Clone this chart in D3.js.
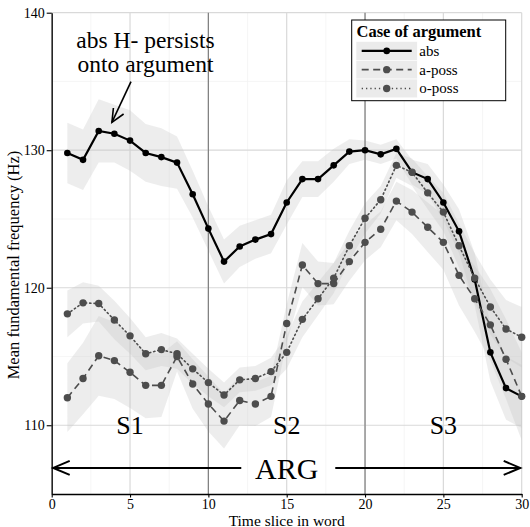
<!DOCTYPE html>
<html>
<head>
<meta charset="utf-8">
<script src="https://cdn.jsdelivr.net/npm/d3@7"></script>
<style>
  body { margin: 0; background: #fff; }
  svg { display: block; font-family: "Liberation Serif", "Times New Roman", serif; }
</style>
</head>
<body>
<svg id="f0-chart" width="530" height="527"></svg>
<script>
// data
const slices = [1,2,3,4,5,6,7,8,9,10,11,12,13,14,15,16,17,18,19,20,21,22,23,24,25,26,27,28,29,30];
const caseNames = ["abs", "a-poss", "o-poss"];

const absMean = [129.8,129.3,131.4,131.2,130.7,129.8,129.5,129.1,126.8,124.3,121.9,123.0,123.5,123.9,126.2,
                 127.9,127.9,128.9,129.9,130.0,129.7,130.1,128.4,127.9,126.2,124.1,120.6,115.3,112.7,112.1];
const absErr  = [2.2,2.2,2.3,2.1,2.2,2.1,2.1,1.9,1.7,1.6,1.6,1.5,1.4,1.4,1.6,
                 1.3,1.3,1.2,0.9,0.7,0.7,0.7,0.9,1.1,1.3,1.6,1.9,2.1,2.3,2.3];

const aPossMean = [112.0,113.4,115.05,114.7,113.85,112.9,112.9,115.0,113.0,111.55,110.3,111.8,111.55,112.1,117.4,
                   121.65,120.3,120.3,121.9,123.3,124.25,126.3,125.5,124.4,123.3,120.9,119.2,117.3,114.8,112.1];
const aPossErr  = [2.5,2.6,2.9,2.8,2.6,2.4,2.3,1.1,1.8,2.0,2.0,1.8,1.6,1.5,1.4,
                   1.6,1.6,1.5,1.4,1.3,1.3,1.4,1.6,1.8,2.0,2.2,2.4,2.6,2.9,3.2];

const oPossMean = [118.1,118.9,118.85,117.65,116.5,115.2,115.5,115.2,114.1,113.1,112.2,113.3,113.4,113.9,115.3,
                   117.7,119.2,120.7,123.05,125.05,126.4,128.9,128.4,126.9,125.5,123.05,120.7,118.6,117.0,116.4];
const oPossErr  = [1.7,1.5,1.3,1.4,1.3,1.2,1.2,1.1,1.1,1.0,0.9,0.9,0.9,1.0,1.2,
                   1.3,1.2,1.1,1.1,1.1,1.0,0.9,1.0,1.2,1.4,1.6,1.8,2.0,2.1,2.2];

const xTicks = [0,5,10,15,20,25,30];
const xMinor = [2.5,7.5,12.5,17.5,22.5,27.5];
const yTicks = [110,120,130,140];
const yMinor = [115,125,135];
const syllableBounds = [10,20];
const syllables = ["S1","S2","S3"];
const syllableMid = [5,15,25];

// Step 1: dimensions
const svg = d3.select("#f0-chart");
const plotLeft = 51.7, plotRight = 521.7, plotTop = 12.7, plotBottom = 494;

// Step 2: scales
const x = d3.scaleLinear().domain([0, 30]).range([plotLeft, plotRight]);
const y = d3.scaleLinear().domain([105, 140]).range([plotBottom, plotTop]);

const series = [
  { name: "abs",    mean: absMean,   err: absErr,   color: "#000000", dash: null,    width: 2.2, r: 3.3 },
  { name: "a-poss", mean: aPossMean, err: aPossErr, color: "#4d4d4d", dash: "7,4.5", width: 1.6, r: 3.7 },
  { name: "o-poss", mean: oPossMean, err: oPossErr, color: "#4d4d4d", dash: "1.3,3", width: 1.6, r: 3.7 }
];

// Step 3: grid
const grid = svg.append("g");
grid.selectAll(".xminor").data(xMinor).enter().append("line")
  .attr("x1", d => x(d)).attr("x2", d => x(d)).attr("y1", plotTop).attr("y2", plotBottom)
  .attr("stroke", "#f2f2f2").attr("stroke-width", 0.7);
grid.selectAll(".yminor").data(yMinor).enter().append("line")
  .attr("x1", plotLeft).attr("x2", plotRight).attr("y1", d => y(d)).attr("y2", d => y(d))
  .attr("stroke", "#f2f2f2").attr("stroke-width", 0.7);
grid.selectAll(".xmajor").data(xTicks).enter().append("line")
  .attr("x1", d => x(d)).attr("x2", d => x(d)).attr("y1", plotTop).attr("y2", plotBottom)
  .attr("stroke", "#d9d9d9").attr("stroke-width", 1.2);
grid.selectAll(".ymajor").data(yTicks).enter().append("line")
  .attr("x1", plotLeft).attr("x2", plotRight).attr("y1", d => y(d)).attr("y2", d => y(d))
  .attr("stroke", "#d9d9d9").attr("stroke-width", 1.2);

// Step 4: confidence ribbons
const area = d3.area()
  .x((d, i) => x(slices[i]))
  .y0(d => y(d.lo))
  .y1(d => y(d.hi));

series.forEach(s => {
  const band = s.mean.map((m, i) => ({ lo: m - s.err[i], hi: m + s.err[i] }));
  svg.append("path")
    .datum(band)
    .attr("d", area)
    .attr("fill", "#c4c4c4")
    .attr("fill-opacity", 0.3);
});

// syllable boundaries
svg.selectAll(".bound").data(syllableBounds).enter().append("line")
  .attr("x1", d => x(d)).attr("x2", d => x(d)).attr("y1", plotTop).attr("y2", plotBottom)
  .attr("stroke", "#7f7f7f").attr("stroke-width", 1.2);

// Step 5: lines and points
const line = d3.line()
  .x((d, i) => x(slices[i]))
  .y(d => y(d));

series.forEach(s => {
  svg.append("path")
    .datum(s.mean)
    .attr("d", line)
    .attr("fill", "none")
    .attr("stroke", s.color)
    .attr("stroke-width", s.width)
    .attr("stroke-dasharray", s.dash)
    .attr("stroke-linecap", s.name === "o-poss" ? "round" : "butt");
});
series.forEach(s => {
  svg.selectAll(null).data(s.mean).enter().append("circle")
    .attr("cx", (d, i) => x(slices[i]))
    .attr("cy", d => y(d))
    .attr("r", s.r)
    .attr("fill", s.color);
});

// Step 6: axes
const yAxis = svg.append("g")
  .attr("transform", "translate(" + plotLeft + ",0)")
  .call(d3.axisLeft(y).tickValues(yTicks).tickSize(5).tickSizeOuter(0).tickPadding(2));
const xAxis = svg.append("g")
  .attr("transform", "translate(0," + plotBottom + ")")
  .call(d3.axisBottom(x).tickValues(xTicks).tickSize(3.5).tickSizeOuter(0).tickPadding(2));
[xAxis, yAxis].forEach(a => {
  a.select(".domain").attr("stroke", "#000").attr("stroke-width", 1.3);
  a.selectAll(".tick line").attr("stroke", "#000").attr("stroke-width", 1.1);
  a.selectAll(".tick text")
    .attr("fill", "#000")
    .style("font-family", "Liberation Serif")
    .style("font-size", "14px");
});

svg.append("text")
  .attr("x", x(15)).attr("y", 525.5)
  .attr("text-anchor", "middle")
  .style("font-size", "15.5px")
  .text("Time slice in word");
svg.append("text")
  .attr("transform", "translate(19,265) rotate(-90)")
  .attr("text-anchor", "middle")
  .style("font-size", "16.5px")
  .text("Mean fundamental frequency (Hz)");

// Step 7: annotations
svg.selectAll(".syl").data(syllables).enter().append("text")
  .attr("x", (d, i) => x(syllableMid[i]))
  .attr("y", y(110) + 9)
  .attr("text-anchor", "middle")
  .style("font-size", "26px")
  .text(d => d);

svg.append("text")
  .attr("x", x(15)).attr("y", 478.7)
  .attr("text-anchor", "middle")
  .style("font-size", "30px")
  .text("ARG");

const argY = 467.9;
const arrows = svg.append("g").attr("stroke", "#000").attr("stroke-width", 2).attr("fill", "none");
arrows.append("line").attr("x1", x(0) + 1).attr("x2", x(12.1)).attr("y1", argY).attr("y2", argY);
arrows.append("line").attr("x1", x(18.1)).attr("x2", x(30) - 1).attr("y1", argY).attr("y2", argY);
arrows.append("path").attr("d", "M" + (x(0) + 18) + "," + (argY - 7) + "L" + (x(0) + 1.5) + "," + argY + "L" + (x(0) + 18) + "," + (argY + 7));
arrows.append("path").attr("d", "M" + (x(30) - 18) + "," + (argY - 7) + "L" + (x(30) - 1.5) + "," + argY + "L" + (x(30) - 18) + "," + (argY + 7));

svg.append("text")
  .attr("x", 145.5).attr("y", 48.3)
  .attr("text-anchor", "middle")
  .style("font-size", "23.5px")
  .text("abs H- persists");
svg.append("text")
  .attr("x", 145.5).attr("y", 71.7)
  .attr("text-anchor", "middle")
  .style("font-size", "23.5px")
  .text("onto argument");

const note = svg.append("g").attr("stroke", "#000").attr("stroke-width", 1.6).attr("fill", "none");
note.append("line").attr("x1", 131).attr("y1", 81.7).attr("x2", 111.9).attr("y2", 122.3);
note.append("path").attr("d", "M113.4,108L111.9,122.3L123.6,114");

// Step 8: legend
const legend = svg.append("g");
legend.append("rect")
  .attr("x", 351.7).attr("y", 20).attr("width", 154).attr("height", 80.7)
  .attr("fill", "#fff").attr("stroke", "#000").attr("stroke-width", 1);
legend.append("text")
  .attr("x", 356.5).attr("y", 36.5)
  .style("font-size", "16.5px").style("font-weight", "bold")
  .text("Case of argument");

const keyH = 18.77;
const keys = legend.selectAll(".key").data(series).enter().append("g")
  .attr("transform", (d, i) => "translate(356," + (41.5 + i * keyH) + ")");
keys.append("rect")
  .attr("width", 61.3).attr("height", keyH)
  .attr("fill", "#ebebeb").attr("stroke", "#fff").attr("stroke-width", 0.6);
keys.append("line")
  .attr("x1", 5.7).attr("x2", 55.7).attr("y1", keyH / 2).attr("y2", keyH / 2)
  .attr("stroke", d => d.color)
  .attr("stroke-width", d => d.width)
  .attr("stroke-dasharray", d => d.dash);
keys.append("circle")
  .attr("cx", 30.7).attr("cy", keyH / 2)
  .attr("r", d => d.r)
  .attr("fill", d => d.color);
keys.append("text")
  .attr("x", 63.3).attr("y", keyH / 2 + 5)
  .style("font-size", "15px")
  .text((d, i) => caseNames[i]);
</script>
</body>
</html>
